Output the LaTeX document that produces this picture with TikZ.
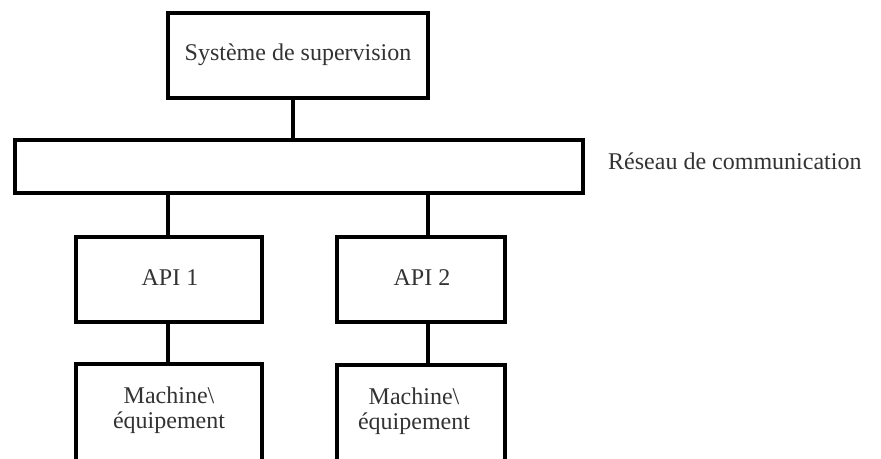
\documentclass[tikz,border=0pt]{standalone}
\usepackage{fontspec}
\setmainfont{Liberation Serif}
\definecolor{txt}{HTML}{333333}
\begin{document}
\begin{tikzpicture}[x=1pt,y=-1pt,
  box/.style={draw=black,line width=3.2pt,rectangle,inner sep=0pt,fill=white},
  lbl/.style={text=txt,font=\fontsize{24}{25}\selectfont,inner sep=0pt,align=center},
  wire/.style={draw=black,line width=3.2pt}]
\useasboundingbox (0,0) rectangle (881,458);
\clip (0,0) rectangle (881,458);
% nodes
\node[box,minimum width=260pt,minimum height=85pt] (sup) at (298,55.5) {};
\node[lbl] (supt) at (298,55) {Système de supervision};
\node[box,minimum width=568pt,minimum height=53pt] (bus) at (299,166.5) {};
\node[lbl,anchor=west] (bust) at (608,161) {Réseau de communication};
\node[box,minimum width=186pt,minimum height=85pt] (a1) at (169,279.5) {};
\node[lbl] (a1t) at (170,278) {API 1};
\node[box,minimum width=168pt,minimum height=85pt] (a2) at (421,279.5) {};
\node[lbl] (a2t) at (422,278) {API 2};
\node[box,minimum width=186pt,minimum height=130pt] (m1) at (169,429) {};
\node[lbl] (m1t) at (169,410) {Machine\textbackslash\\équipement};
\node[box,minimum width=168pt,minimum height=130pt] (m2) at (421,430) {};
\node[lbl] (m2t) at (414,411) {Machine\textbackslash\\équipement};
% connectors
\coordinate (j0) at (293,0);
\coordinate (j1) at (168,0);
\coordinate (j2) at (428,0);
\draw[wire] (sup.south -| j0) -- (bus.north -| j0);
\draw[wire] (bus.south -| j1) -- (a1.north -| j1);
\draw[wire] (bus.south -| j2) -- (a2.north -| j2);
\draw[wire] (a1.south -| j1) -- (m1.north -| j1);
\draw[wire] (a2.south -| j2) -- (m2.north -| j2);
% small thicker mark on the right edge of the bus
\coordinate (k) at (584,0);
\draw[black,line width=1.5pt] ([yshift=-4pt]bus.east -| k) -- ([yshift=13pt]bus.east -| k);
\end{tikzpicture}
\end{document}
